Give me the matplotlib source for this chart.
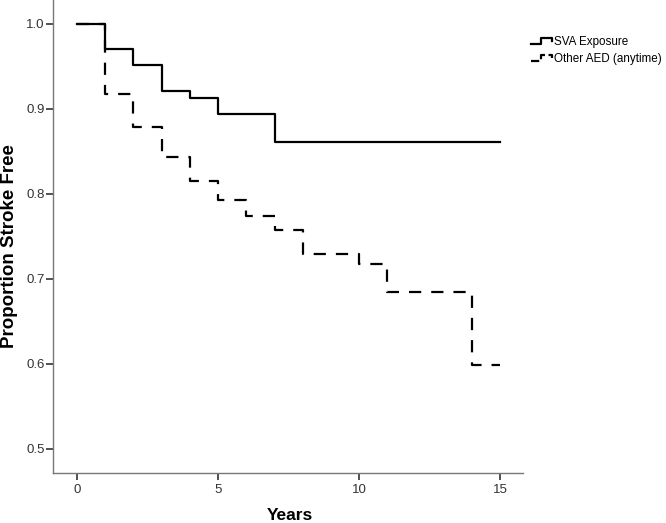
import matplotlib
matplotlib.use("Agg")
import matplotlib.pyplot as plt
from matplotlib.legend_handler import HandlerBase
from matplotlib.lines import Line2D

plt.rcParams['font.family'] = ['Liberation Sans', 'DejaVu Sans']

# Kaplan-Meier step data
sva_years = [0, 1, 2, 3, 4, 5, 7, 15]
sva_free = [1.0, 0.970, 0.951, 0.921, 0.913, 0.894, 0.861, 0.861]

aed_years = [0, 1, 2, 3, 4, 5, 6, 7, 8, 10, 11, 14, 15]
aed_free = [1.0, 0.918, 0.879, 0.843, 0.815, 0.793, 0.774, 0.758, 0.729, 0.717, 0.684, 0.599, 0.599]

x_ticks = [0, 5, 10, 15]
y_ticks = [0.5, 0.6, 0.7, 0.8, 0.9, 1.0]
series_names = ["SVA Exposure", "Other AED (anytime)"]

dash = (0, (5.5, 4.5))


class StepHandler(HandlerBase):
    # small step glyph like the SPSS legend
    def create_artists(self, legend, orig_handle, xd, yd, width, height, fontsize, trans):
        xs = [xd, xd + width * 0.45, xd + width * 0.45, xd + width, xd + width]
        ys = [yd + height * 0.15, yd + height * 0.15, yd + height * 0.85, yd + height * 0.85, yd + height * 0.5]
        ln = Line2D(xs, ys, color=orig_handle.get_color(), lw=orig_handle.get_linewidth(),
                    linestyle=orig_handle.get_linestyle(), transform=trans)
        return [ln]


fig = plt.figure(figsize=(6.66, 5.23), dpi=100)
ax = fig.add_axes([0.0796, 0.0962, 0.7055, 0.9038])

ax.step(sva_years, sva_free, where='post', color='black', lw=1.6, label=series_names[0])
ax.step(aed_years, aed_free, where='post', color='black', lw=1.6, linestyle=dash,
        label=series_names[1])

ax.set_xlim(-0.85, 15.8)
ax.set_ylim(0.472, 1.028)
ax.set_xticks(x_ticks)
ax.set_yticks(y_ticks)
ax.set_yticklabels([f"{v:.1f}" for v in y_ticks])

for s in ['top', 'right']:
    ax.spines[s].set_visible(False)
for s in ['left', 'bottom']:
    ax.spines[s].set_color('#777777')
    ax.spines[s].set_linewidth(1.0)
ax.tick_params(axis='both', colors='#333333', labelsize=9.5, length=5, width=1.2, direction='out')
ax.tick_params(axis='x', pad=3)
ax.tick_params(axis='y', pad=1)

ax.set_xlabel("Years", fontsize=12.5, fontweight='bold')
ax.set_ylabel("Proportion Stroke Free", fontsize=13.5, fontweight='bold')
ax.xaxis.set_label_coords(0.504, -0.074)
ax.yaxis.set_label_coords(-0.075, 0.48)

leg_l1 = Line2D([], [], color='black', lw=1.6)
leg_l2 = Line2D([], [], color='black', lw=1.6, linestyle=(0, (3, 2)))
fig.legend([leg_l1, leg_l2], series_names, loc='upper left', bbox_to_anchor=(0.789, 0.942),
           frameon=False, fontsize=8.4, handler_map={Line2D: StepHandler()},
           handlelength=1.8, handletextpad=0.15, labelspacing=0.45, borderpad=0)

fig.savefig("out.png", dpi=100)
